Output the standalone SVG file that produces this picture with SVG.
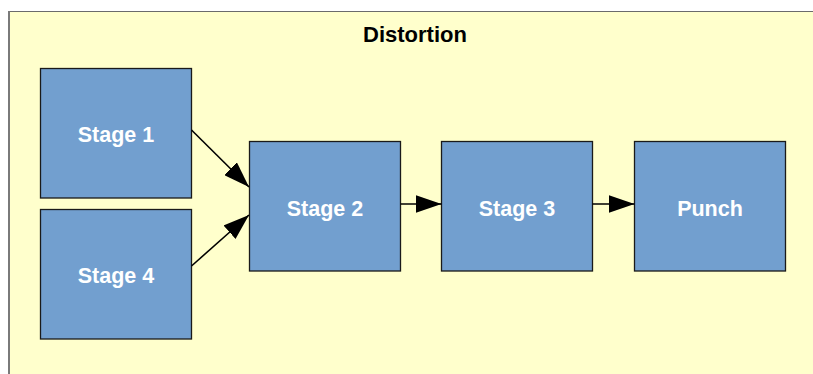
<svg xmlns="http://www.w3.org/2000/svg" width="813" height="374" viewBox="0 0 813 374">
  <style>
    .frame { fill: #ffffcc; }
    .box { fill: #729fcf; stroke: #1a1a1a; stroke-width: 1.3; }
    .label { font-family: "Liberation Sans", Arial, sans-serif; font-weight: bold; font-size: 21.5px; fill: #ffffff; text-anchor: middle; }
    .title { font-family: "Liberation Sans", Arial, sans-serif; font-weight: bold; font-size: 22px; fill: #000000; text-anchor: middle; }
    .edge { stroke: #000000; stroke-width: 1.6; fill: none; marker-end: url(#arrow); }
  </style>
  <defs>
    <marker id="arrow" viewBox="0 0 26 18" refX="26" refY="9" markerWidth="26" markerHeight="18" markerUnits="userSpaceOnUse" orient="auto">
      <path d="M0,0 L26,9 L0,18 Z" fill="#000000"/>
    </marker>
  </defs>

  <rect x="0" y="0" width="813" height="374" fill="#ffffff"/>

  <!-- container panel -->
  <g id="panel">
    <rect class="frame" x="8" y="11" width="805" height="363"/>
    <line x1="8" y1="11.5" x2="813" y2="11.5" stroke="#6b6b6b" stroke-width="1"/>
    <line x1="9" y1="11" x2="9" y2="374" stroke="#7a7a7a" stroke-width="2"/>
    <text class="title" x="415" y="41.5">Distortion</text>
  </g>

  <g id="stage1">
    <rect class="box" x="40.5" y="68.5" width="151" height="129.5"/>
    <text class="label" x="116" y="141.5">Stage 1</text>
  </g>

  <g id="stage4">
    <rect class="box" x="40.5" y="209.5" width="151" height="129.5"/>
    <text class="label" x="116" y="282.5">Stage 4</text>
  </g>

  <g id="stage2">
    <rect class="box" x="249.5" y="141.5" width="151" height="129.5"/>
    <text class="label" x="325" y="215.5">Stage 2</text>
  </g>

  <g id="stage3">
    <rect class="box" x="441.5" y="141.5" width="151" height="129.5"/>
    <text class="label" x="517" y="215.5">Stage 3</text>
  </g>

  <g id="punch">
    <rect class="box" x="634.5" y="141.5" width="151" height="129.5"/>
    <text class="label" x="710" y="215.5">Punch</text>
  </g>

  <!-- connectors -->
  <g id="connectors">
    <line class="edge" x1="191.5" y1="130" x2="249" y2="187"/>
    <line class="edge" x1="191.5" y1="266" x2="249" y2="215"/>
    <line class="edge" x1="400.5" y1="204" x2="441.5" y2="204"/>
    <line class="edge" x1="592.5" y1="204" x2="634.5" y2="204"/>
  </g>
</svg>
